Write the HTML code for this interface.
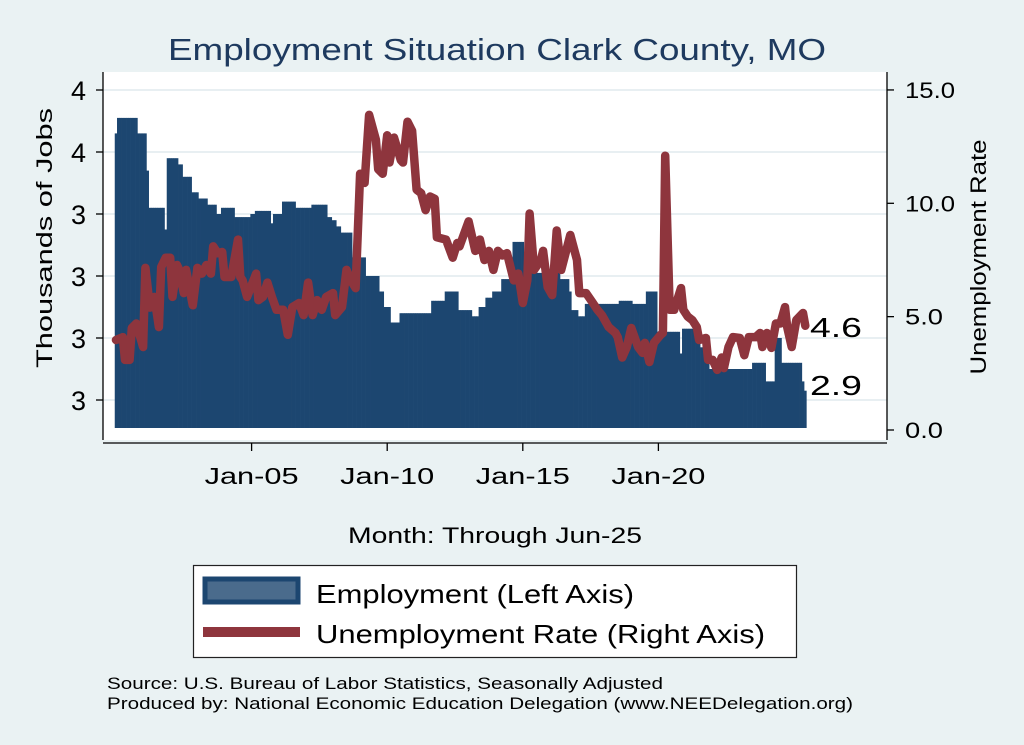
<!DOCTYPE html>
<html><head><meta charset="utf-8"><style>
body{margin:0;background:#eaf2f3;}
svg{display:block;font-family:"Liberation Sans",sans-serif;}
</style></head><body>
<svg id="c" width="1024" height="745" viewBox="0 0 1024 745">
<rect x="0" y="0" width="1024" height="745" fill="#eaf2f3"/>
<rect x="103" y="72" width="784" height="368" fill="#ffffff"/>
<text x="168" y="60" font-size="31" fill="#1e3a5f" textLength="658" lengthAdjust="spacingAndGlyphs">Employment Situation Clark  County, MO</text>
<g id="grid"></g>
<g id="bars"></g>
<g id="line"></g>
<g id="axes"></g>
<text x="52" y="238" text-anchor="middle" font-size="22" textLength="260" lengthAdjust="spacingAndGlyphs" transform="rotate(-90 52 238)">Thousands of Jobs</text>
<text x="986" y="257" text-anchor="middle" font-size="22" textLength="235" lengthAdjust="spacingAndGlyphs" transform="rotate(-90 986 257)">Unemployment Rate</text>
<text x="348" y="543" font-size="22" textLength="294" lengthAdjust="spacingAndGlyphs">Month: Through Jun-25</text>
<text x="810" y="337" font-size="28" textLength="52" lengthAdjust="spacingAndGlyphs">4.6</text>
<text x="810" y="395" font-size="28" textLength="52" lengthAdjust="spacingAndGlyphs">2.9</text>
<g>
<rect x="193.5" y="565.5" width="603" height="92" fill="#fff" stroke="#222" stroke-width="1.2"/>
<rect x="205" y="579" width="93" height="23" fill="#4a6b8c" stroke="#1c4670" stroke-width="5"/>
<text x="316" y="603" font-size="26" textLength="318" lengthAdjust="spacingAndGlyphs">Employment (Left Axis)</text>
<rect x="203" y="627" width="97" height="10" fill="#8e353d"/>
<text x="316" y="643" font-size="26" textLength="449" lengthAdjust="spacingAndGlyphs">Unemployment Rate (Right Axis)</text>
</g>
<text x="107" y="689" font-size="17" textLength="556" lengthAdjust="spacingAndGlyphs">Source: U.S. Bureau of Labor Statistics, Seasonally Adjusted</text>
<text x="107" y="709" font-size="17" textLength="746" lengthAdjust="spacingAndGlyphs">Produced by: National Economic Education Delegation (www.NEEDelegation.org)</text>
</svg>
<script>
const employment = [
3.76,3.81,3.81,3.81,3.81,3.81,3.81,3.81,3.81,3.81,3.76,3.76,
3.76,3.76,3.64,3.52,3.52,3.52,3.52,3.52,3.52,3.52,3.45,3.68,
3.68,3.68,3.68,3.68,3.66,3.66,3.62,3.62,3.62,3.62,3.57,3.57,
3.57,3.55,3.55,3.55,3.55,3.53,3.53,3.53,3.53,3.50,3.50,3.52,
3.52,3.52,3.52,3.52,3.52,3.49,3.49,3.49,3.49,3.49,3.49,3.49,
3.50,3.50,3.51,3.51,3.51,3.51,3.51,3.51,3.51,3.47,3.50,3.50,
3.50,3.50,3.54,3.54,3.54,3.54,3.54,3.54,3.52,3.52,3.52,3.52,
3.52,3.52,3.52,3.53,3.53,3.53,3.53,3.53,3.53,3.53,3.49,3.49,
3.48,3.48,3.46,3.46,3.44,3.44,3.44,3.44,3.44,3.36,3.36,3.36,
3.36,3.36,3.36,3.30,3.30,3.30,3.30,3.30,3.30,3.25,3.25,3.20,
3.20,3.20,3.15,3.15,3.15,3.15,3.18,3.18,3.18,3.18,3.18,3.18,
3.18,3.18,3.18,3.18,3.18,3.18,3.18,3.18,3.22,3.22,3.22,3.22,
3.22,3.22,3.25,3.25,3.25,3.25,3.25,3.25,3.19,3.19,3.19,3.19,
3.19,3.19,3.17,3.17,3.17,3.20,3.20,3.20,3.23,3.23,3.23,3.25,
3.25,3.25,3.25,3.29,3.29,3.29,3.29,3.29,3.41,3.41,3.41,3.41,
3.41,3.32,3.32,3.32,3.32,3.32,3.31,3.31,3.31,3.31,3.31,3.31,
3.31,3.31,3.31,3.31,3.31,3.29,3.29,3.29,3.29,3.25,3.19,3.19,
3.19,3.17,3.17,3.17,3.21,3.21,3.21,3.21,3.21,3.21,3.21,3.21,
3.21,3.21,3.21,3.21,3.21,3.21,3.21,3.22,3.22,3.22,3.22,3.22,
3.22,3.21,3.21,3.21,3.21,3.21,3.21,3.25,3.25,3.25,3.25,3.25,
3.12,3.12,3.12,3.12,3.12,3.12,3.12,3.12,3.12,3.12,3.05,3.13,
3.13,3.13,3.13,3.13,3.13,3.13,3.13,3.07,3.07,3.07,3.07,3.00,
3.00,3.00,3.00,3.00,3.00,3.00,3.00,3.00,3.00,3.00,3.00,3.00,
3.00,3.00,3.00,3.00,3.00,3.00,3.02,3.02,3.02,3.02,3.02,3.02,
2.96,2.96,2.96,2.96,3.10,3.10,3.10,3.02,3.02,3.02,3.02,3.02,
3.02,3.02,3.02,3.02,2.96,2.93];
const rateMonths = [0,3,4,6,7,9,12,13,15,17,19,20,22,24,25,27,28,30,31,34,36,38,40,42,43,45,47,48,51,54,55,56,58,62,63,65,67,69,71,74,76,78,81,83,85,87,89,91,93,96,97,100,102,104,106,108,110,112,115,116,118,120,121,123,126,127,129,131,133,135,137,139,141,142,146,149,151,152,156,159,161,163,165,167,169,171,173,176,178,180,182,183,185,188,189,191,193,195,197,201,204,205,208,211,213,215,218,221,222,224,226,228,231,233,234,236,238,241,242,243,245,247,250,251,253,255,257,258,261,262,264,266,268,269,271,273,276,278,280,283,285,286,288,290,292,294,296,297,299,301,304,305];
const rateValues = [3.97,4.1,3.09,3.09,4.5,4.7,3.66,7.15,5.4,5.87,4.54,7.19,7.6,7.6,5.87,7.28,7.06,6.04,7.06,5.5,7.15,6.9,7.28,6.9,8.1,7.8,7.85,6.75,6.75,8.4,6.75,6.6,5.87,6.9,5.73,5.87,6.5,5.87,5.3,5.3,4.2,5.42,5.6,5.07,6.5,5.07,5.73,5.3,5.87,6.04,5.07,5.42,7.06,6.6,6.26,11.3,10.9,13.9,12.8,11.5,11.3,13.0,11.8,12.9,11.9,11.8,13.6,13.2,10.6,10.45,9.7,10.3,10.2,8.5,8.4,7.6,8.25,8.1,9.2,7.9,8.4,7.5,7.9,7.06,7.9,7.7,7.8,6.6,6.9,5.6,6.6,9.55,7.06,7.5,7.9,6.3,5.95,8.8,7.06,8.6,7.5,6.04,6.04,5.6,5.3,5.07,4.54,4.28,4.1,3.2,3.66,4.5,3.66,3.4,3.84,3.0,3.84,4.2,4.28,12.1,5.3,5.3,6.26,5.3,5.0,4.85,4.54,3.97,4.06,3.09,3.09,2.65,3.2,2.73,3.66,4.1,4.06,3.3,4.1,4.1,4.28,3.66,4.28,3.62,4.7,4.7,5.42,4.54,3.66,4.85,5.16,4.6];
const leftTickValues = [2.9,3.1,3.3,3.5,3.7,3.9];
const leftTickLabels = ["3","3","3","3","4","4"];
const rightTickValues = [0,5,10,15];
const rightTickLabels = ["0.0","5.0","10.0","15.0"];
const xTickMonths = [60,120,180,240];
const xTickLabels = ["Jan-05","Jan-10","Jan-15","Jan-20"];

const NS="http://www.w3.org/2000/svg";
function xS(m){return 116+m*2.26;}
function yL(v){return 400-(v-2.9)*310;}
function yR(u){return 430-u*22.67;}
function mk(tag,attrs,parent){const e=document.createElementNS(NS,tag);for(const k in attrs)e.setAttribute(k,attrs[k]);parent.appendChild(e);return e;}
const grid=document.getElementById('grid'),bars=document.getElementById('bars'),line=document.getElementById('line'),axes=document.getElementById('axes');
leftTickValues.forEach(v=>{const g=mk('line',{x1:103,x2:887,y1:yL(v),y2:yL(v),stroke:'#e8eff2','stroke-width':2},grid);

});
const base=428;
employment.forEach((v,i)=>{const y=yL(v);const r=mk('rect',{x:xS(i)-1.25,y:y,width:2.6,height:base-y,fill:'#1c4670'},bars);

});
const pts=rateMonths.map((m,i)=>xS(m).toFixed(1)+','+yR(rateValues[i]).toFixed(1)).join(' ');
const pl=mk('polyline',{points:pts,fill:'none',stroke:'#8e353d','stroke-width':8.5,'stroke-linejoin':'round','stroke-linecap':'round'},line);


let a=mk('line',{x1:103,x2:103,y1:72,y2:440,stroke:'#000','stroke-width':1.3},axes);


a=mk('line',{x1:887,x2:887,y1:72,y2:440,stroke:'#000','stroke-width':1.3},axes);


a=mk('line',{x1:103,x2:887,y1:443,y2:443,stroke:'#000','stroke-width':1.3},axes);


leftTickValues.forEach((v,i)=>{const y=yL(v);mk('line',{x1:96,x2:103,y1:y,y2:y,stroke:'#000','stroke-width':1.3},axes);
const t=mk('text',{x:86,y:y+10,'text-anchor':'end','font-size':27},axes);t.textContent=leftTickLabels[i];

});
rightTickValues.forEach((v,i)=>{const y=yR(v);mk('line',{x1:887,x2:894,y1:y,y2:y,stroke:'#000','stroke-width':1.3},axes);
const t=mk('text',{x:905,y:y+8,'font-size':22,textLength:(rightTickLabels[i].length>3?50:38),lengthAdjust:'spacingAndGlyphs'},axes);t.textContent=rightTickLabels[i];

});
xTickMonths.forEach((m,i)=>{const x=xS(m);mk('line',{x1:x,x2:x,y1:443,y2:451,stroke:'#000','stroke-width':1.3},axes);
const t=mk('text',{x:x-47,y:484,'font-size':23,textLength:94,lengthAdjust:'spacingAndGlyphs'},axes);t.textContent=xTickLabels[i];

});
</script>
</body></html>
